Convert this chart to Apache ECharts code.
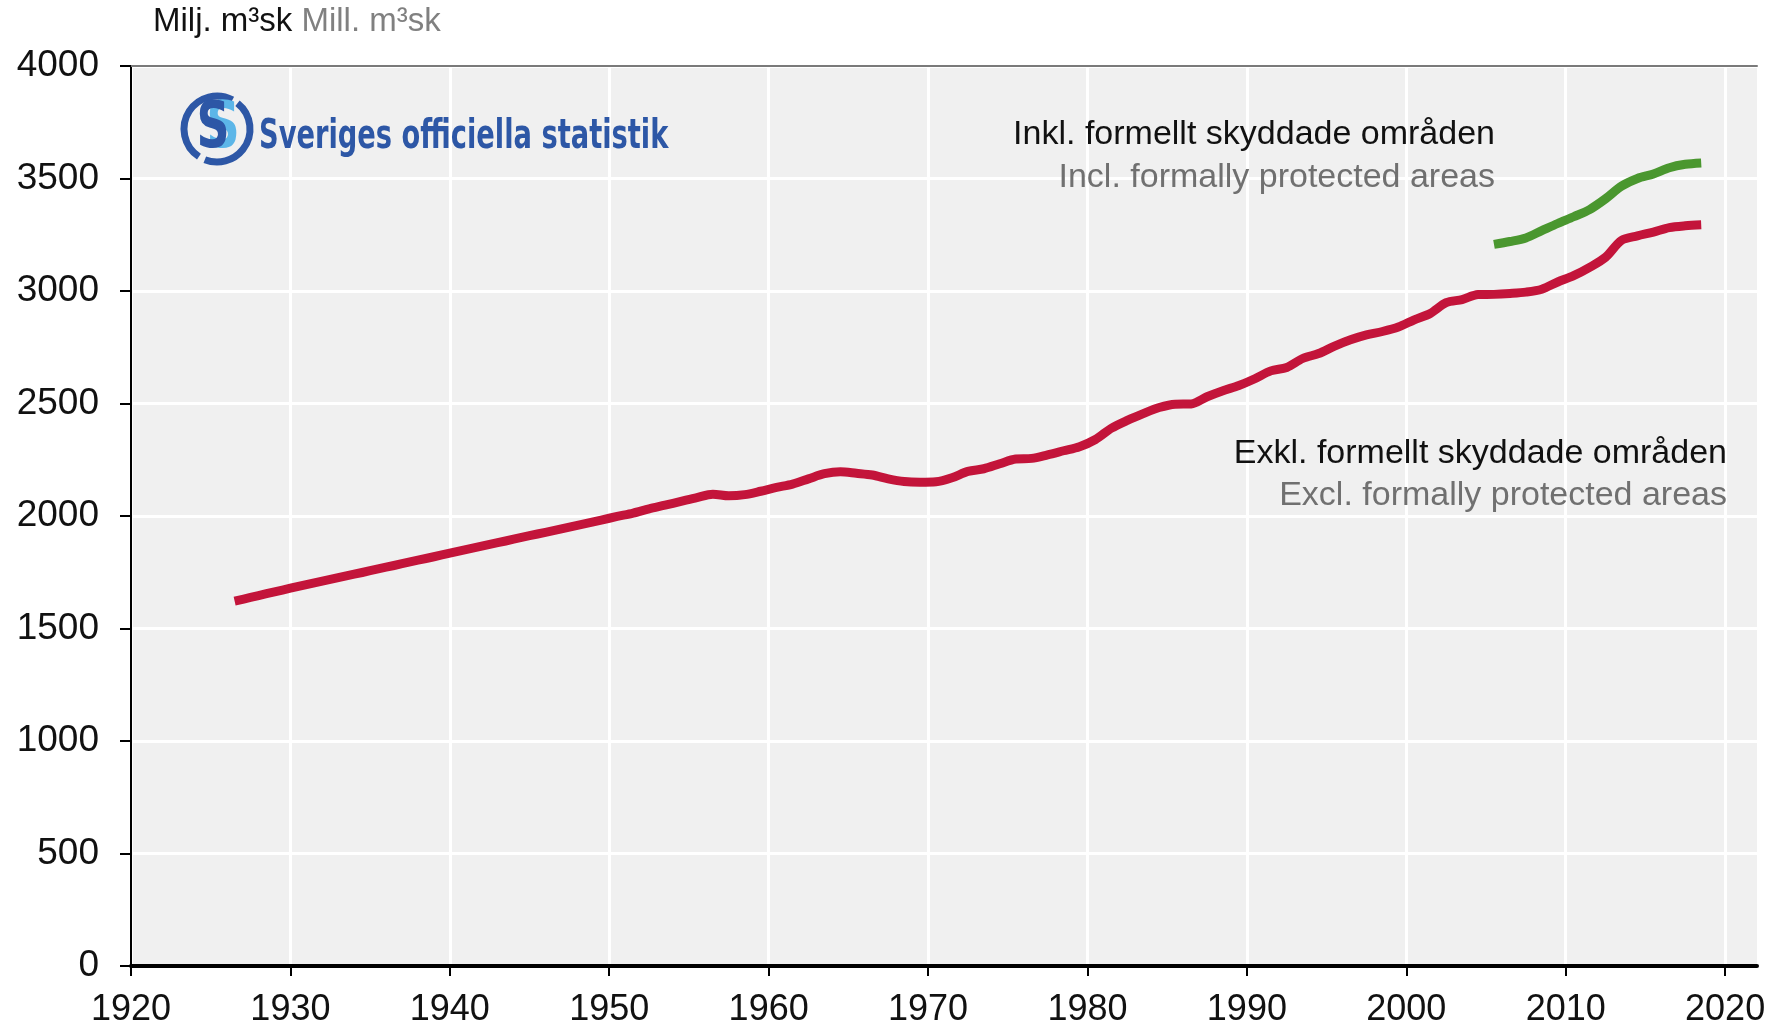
<!DOCTYPE html>
<html>
<head>
<meta charset="utf-8">
<script src="https://cdn.jsdelivr.net/npm/echarts@6/dist/echarts.min.js"></script>
<style>
  html, body { margin: 0; padding: 0; background: #ffffff; }
  #chart { width: 1783px; height: 1029px; }
</style>
</head>
<body>
<div id="chart"></div>
<script>
// ---- Data ----
// Mid-year positions of the annual (moving-average) estimates
const exclStartYear = 1926.5;
const exclValues = [
  1622, 1638, 1655, 1671, 1687, 1703, 1718, 1734, 1749, 1765,
  1780, 1796, 1811, 1827, 1843, 1858, 1874, 1889, 1905, 1920,
  1935, 1951, 1966, 1982, 1998,
  2013, 2032, 2048, 2065, 2082, 2097, 2090, 2095, 2110, 2127,
  2142, 2165, 2188, 2197, 2190, 2182, 2165, 2153, 2150, 2152,
  2170, 2198, 2210, 2232, 2253,
  2256, 2272, 2290, 2308, 2340, 2390, 2425, 2455, 2482, 2497,
  2498, 2530, 2557, 2580, 2610, 2645, 2660, 2700, 2722, 2755,
  2783, 2805, 2820, 2840, 2872,
  2900, 2948, 2962, 2984, 2985, 2989, 2995, 3008, 3040, 3068,
  3105, 3150, 3225, 3245, 3262, 3282, 3290, 3294
];
const inclStartYear = 2005.5;
const inclValues = [
  3207, 3220, 3236, 3268, 3300, 3330, 3362, 3410, 3466, 3500,
  3520, 3548, 3563, 3569
];
const xTickLabels = [1920, 1930, 1940, 1950, 1960, 1970, 1980, 1990, 2000, 2010, 2020];
const yTickLabels = [0, 500, 1000, 1500, 2000, 2500, 3000, 3500, 4000];

const unitSv = 'Milj. m³sk';
const unitEn = 'Mill. m³sk';
const inclSv = 'Inkl. formellt skyddade områden';
const inclEn = 'Incl. formally protected areas';
const exclSv = 'Exkl. formellt skyddade områden';
const exclEn = 'Excl. formally protected areas';
const logoText = 'Sveriges officiella statistik';

function pairs(start, vals) {
  return vals.map((v, i) => [start + i, v]);
}

const FONT = '"Liberation Sans", Arial, Helvetica, sans-serif';
const LOGOFONT = '"Liberation Sans Narrow", "DejaVu Sans Condensed", "DejaVu Sans", sans-serif';
const chart = echarts.init(document.getElementById('chart'), null, { renderer: 'canvas' });

const darkBlue = '#2d57a6';
const lightBlue = '#5cb6e8';

chart.setOption({
  animation: false,
  backgroundColor: '#ffffff',
  grid: {
    left: 131, right: 26, top: 66, bottom: 63,
    show: true, backgroundColor: '#f0f0f0', borderWidth: 0,
    containLabel: false, outerBoundsMode: 'none'
  },
  xAxis: [{
    type: 'value',
    min: xTickLabels[0],
    max: 2022,
    interval: 10,
    axisLine: { show: true, lineStyle: { color: '#000', width: 4 } },
    axisTick: { show: true, length: 10, lineStyle: { color: '#000', width: 2 }, customValues: xTickLabels },
    axisLabel: {
      customValues: xTickLabels,
      color: '#111', fontSize: 36, fontFamily: FONT, margin: 26,
      formatter: v => String(v)
    },
    splitLine: { show: true, lineStyle: { color: '#ffffff', width: 3 } }
  }, {
    type: 'value',
    position: 'top',
    min: xTickLabels[0],
    max: 2022,
    axisLine: { show: true, onZero: false, lineStyle: { color: '#7a7a7a', width: 2 } },
    axisTick: { show: false },
    axisLabel: { show: false },
    splitLine: { show: false }
  }],
  yAxis: {
    type: 'value',
    min: yTickLabels[0],
    max: yTickLabels[yTickLabels.length - 1],
    interval: 500,
    axisLine: { show: true, lineStyle: { color: '#000', width: 2 } },
    axisTick: { show: true, length: 11, lineStyle: { color: '#000', width: 2 } },
    axisLabel: {
      color: '#111', fontSize: 37, fontFamily: FONT, margin: 32,
      formatter: v => String(v)
    },
    splitLine: { show: true, lineStyle: { color: '#ffffff', width: 3 } }
  },
  series: [{
    name: exclSv,
    type: 'line',
    data: pairs(exclStartYear, exclValues),
    showSymbol: false,
    smooth: 0.3,
    lineStyle: { color: '#c3143a', width: 9, cap: 'butt', join: 'round' },
    z: 3
  }, {
    name: inclSv,
    type: 'line',
    data: pairs(inclStartYear, inclValues),
    showSymbol: false,
    smooth: 0.3,
    lineStyle: { color: '#4a972f', width: 9, cap: 'butt', join: 'round' },
    z: 3
  }],
  graphic: [
    {
      type: 'text', left: 153, top: 5,
      style: {
        text: '{a|' + unitSv + ' }{b|' + unitEn + '}',
        rich: {
          a: { fontSize: 33, fontFamily: FONT, fill: '#111' },
          b: { fontSize: 33, fontFamily: FONT, fill: '#808080' }
        }
      }
    },
    {
      type: 'text', x: 1495, y: 135,
      style: { text: inclSv, fontSize: 34, fontFamily: FONT, fill: '#111', align: 'right', verticalAlign: 'middle' }, z: 10
    },
    {
      type: 'text', x: 1495, y: 178,
      style: { text: inclEn, fontSize: 34, fontFamily: FONT, fill: '#707070', align: 'right', verticalAlign: 'middle' }, z: 10
    },
    {
      type: 'text', x: 1727, y: 454,
      style: { text: exclSv, fontSize: 34, fontFamily: FONT, fill: '#111', align: 'right', verticalAlign: 'middle' }, z: 10
    },
    {
      type: 'text', x: 1727, y: 496,
      style: { text: exclEn, fontSize: 34, fontFamily: FONT, fill: '#707070', align: 'right', verticalAlign: 'middle' }, z: 10
    },
    // Logo emblem
    {
      type: 'arc', shape: { cx: 217, cy: 129, r: 33, startAngle: -0.9, endAngle: 1.95 },
      style: { stroke: darkBlue, lineWidth: 7, fill: null }, z: 10
    },
    {
      type: 'arc', shape: { cx: 217, cy: 129, r: 33, startAngle: 2.15, endAngle: 5.2 },
      style: { stroke: darkBlue, lineWidth: 7, fill: null }, z: 10
    },
    {
      type: 'text', x: 223, y: 130, scaleX: 0.8,
      style: { text: 'S', fontSize: 64, fontWeight: 'bold', fontFamily: LOGOFONT, fill: lightBlue, align: 'center', verticalAlign: 'middle' }, z: 10
    },
    {
      type: 'text', x: 213, y: 130, scaleX: 0.8,
      style: { text: 'S', fontSize: 64, fontWeight: 'bold', fontFamily: LOGOFONT, fill: darkBlue, align: 'center', verticalAlign: 'middle' }, z: 11
    },
    {
      type: 'text', x: 259, y: 137, scaleX: 0.74,
      style: { text: logoText, fontSize: 41, fontWeight: 'bold', fontFamily: LOGOFONT, fill: darkBlue, align: 'left', verticalAlign: 'middle' }, z: 10
    }
  ]
});
</script>
</body>
</html>
